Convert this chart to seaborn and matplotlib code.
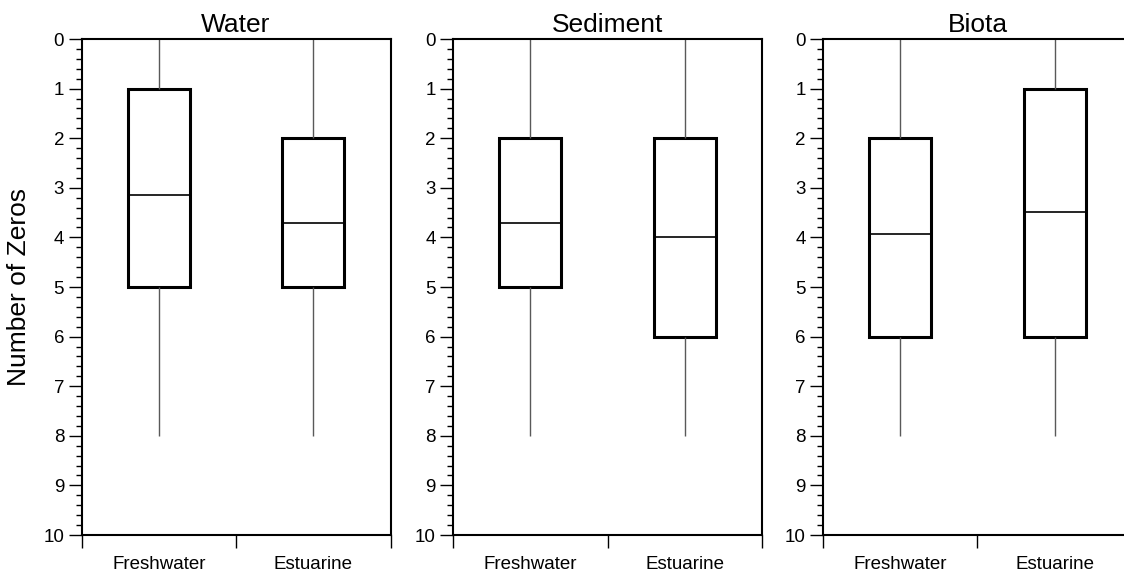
import numpy as np
import pandas as pd
import matplotlib
matplotlib.use("Agg")
import matplotlib.pyplot as plt
from matplotlib.ticker import MultipleLocator
import seaborn as sns

# Five-number summaries (min, Q1, median, Q3, max) of the number of zeros
panels = ["Water", "Sediment", "Biota"]
habitats = ["Freshwater", "Estuarine"]

water_fresh = [0, 1, 3.15, 5, 8]
water_estu = [0, 2, 3.71, 5, 8]
sediment_fresh = [0, 2, 3.70, 5, 8]
sediment_estu = [0, 2, 4.00, 6, 8]
biota_fresh = [0, 2, 3.93, 6, 8]
biota_estu = [0, 1, 3.49, 6, 8]

summaries = {
    "Water": {"Freshwater": water_fresh, "Estuarine": water_estu},
    "Sediment": {"Freshwater": sediment_fresh, "Estuarine": sediment_estu},
    "Biota": {"Freshwater": biota_fresh, "Estuarine": biota_estu},
}

rows = []
for panel, groups in summaries.items():
    for hab, vals in groups.items():
        for v in vals:
            rows.append({"panel": panel, "habitat": hab, "zeros": v})
df = pd.DataFrame(rows)

sns.set_theme(style="ticks")
plt.rcParams["font.family"] = ["Liberation Sans", "DejaVu Sans"]
plt.rcParams["text.color"] = "black"
plt.rcParams["axes.labelcolor"] = "black"
plt.rcParams["xtick.color"] = "black"
plt.rcParams["ytick.color"] = "black"
plt.rcParams["axes.titlecolor"] = "black"

fig = plt.figure(figsize=(11.24, 5.71), dpi=100)
W, H = 1124, 571
lefts = [81.5, 453, 823]
ax_w, ax_b, ax_h = 309, 36, 496

for i, panel in enumerate(panels):
    ax = fig.add_axes([lefts[i] / W, ax_b / H, ax_w / W, ax_h / H])
    sns.boxplot(
        data=df[df["panel"] == panel], x="habitat", y="zeros", order=habitats,
        ax=ax, color="white", linecolor="black", linewidth=2, width=0.4,
        whis=(0, 100), showcaps=False, showfliers=False,
        whiskerprops={"color": "0.35", "linewidth": 1},
        medianprops={"color": "black", "linewidth": 1.2},
        boxprops={"facecolor": "white", "edgecolor": "black", "linewidth": 2.2},
    )
    ax.set_xlim(-0.5, 1.5)
    ax.set_ylim(10, 0)
    ax.set_xlabel("")
    ax.set_ylabel("Number of Zeros" if i == 0 else "", fontsize=19, labelpad=9)
    ax.set_title(panel, fontsize=19, pad=5)

    for s in ax.spines.values():
        s.set_visible(True)
        s.set_linewidth(1.5)
        s.set_color("black")

    ax.set_xticks([-0.5, 0.5, 1.5])
    ax.set_xticklabels([])
    ax.set_xticks([0, 1], minor=True)
    ax.set_xticklabels(habitats, minor=True, fontsize=13.5)
    ax.tick_params(axis="x", which="major", length=9.5, width=1, direction="out",
                   color="black")
    ax.tick_params(axis="x", which="minor", length=0, pad=15)

    ax.yaxis.set_major_locator(MultipleLocator(1))
    ax.yaxis.set_minor_locator(MultipleLocator(0.2))
    ax.tick_params(axis="y", which="major", length=9.5, width=1, direction="out",
                   labelsize=13.5, color="black", left=True, right=False, pad=3)
    ax.tick_params(axis="y", which="minor", length=4.5, width=1, direction="out",
                   color="black", left=True, right=False)

fig.savefig("out.png", dpi=100)
